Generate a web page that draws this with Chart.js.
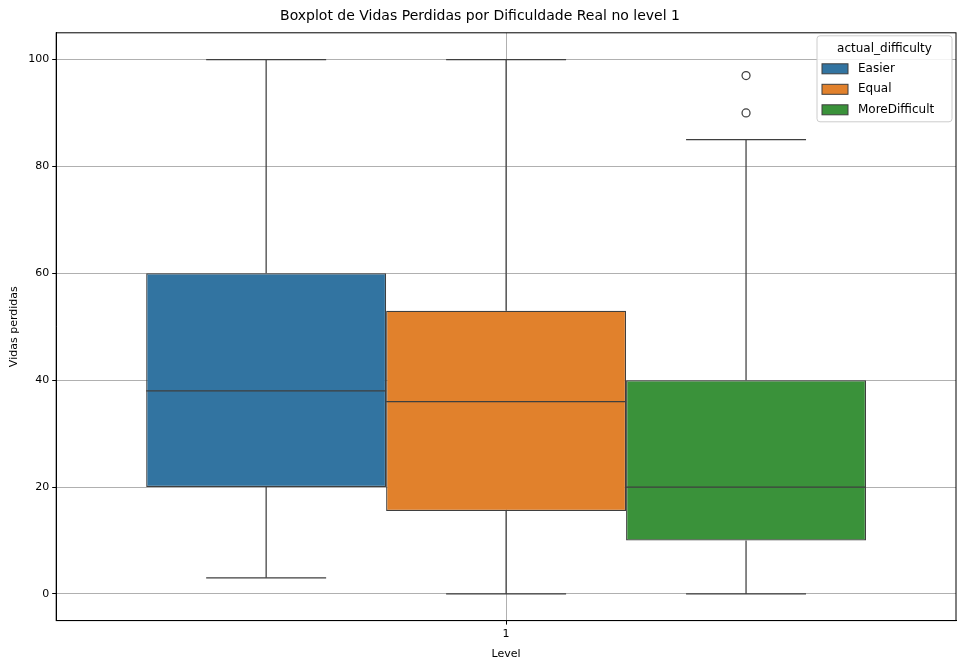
<!DOCTYPE html>
<html><head><meta charset="utf-8">
<script src="https://cdn.jsdelivr.net/npm/chart.js@4/dist/chart.umd.min.js"></script>
<style>html,body{margin:0;padding:0;background:#fff}#w{width:965px;height:671px}</style>
</head><body><div id="w"><canvas id="c"></canvas></div>
<script>
const categories = ["1"];
const groups = ["Easier","Equal","MoreDifficult"];
const colors = ["#3274a1","#e1812c","#3a923a"];
const whiskerLow = [3, 0, 0];
const q1 = [20, 15.5, 10];
const median = [38, 36, 20];
const q3 = [60, 53, 40];
const whiskerHigh = [100, 100, 85];
const outliers = [[], [], [90, 97]];
const yTicks = [0,20,40,60,80,100];
const LINE = "#3f3f3f";

const boxPlugin = {
  id: 'box',
  afterDatasetsDraw(chart) {
    const ctx = chart.ctx, y = chart.scales.y;
    ctx.save();
    ctx.strokeStyle = LINE; ctx.lineWidth = 1.25;
    groups.forEach((g, i) => {
      const el = chart.getDatasetMeta(i).data[0];
      const x = el.x, w = el.width, l = x - w/2, r = x + w/2;
      const line = (x1,y1,x2,y2)=>{ctx.beginPath();ctx.moveTo(x1,y1);ctx.lineTo(x2,y2);ctx.stroke();};
      line(l, y.getPixelForValue(median[i]), r, y.getPixelForValue(median[i]));
      line(x, y.getPixelForValue(q3[i]), x, y.getPixelForValue(whiskerHigh[i]));
      line(x, y.getPixelForValue(q1[i]), x, y.getPixelForValue(whiskerLow[i]));
      line(x-w/4, y.getPixelForValue(whiskerHigh[i]), x+w/4, y.getPixelForValue(whiskerHigh[i]));
      line(x-w/4, y.getPixelForValue(whiskerLow[i]), x+w/4, y.getPixelForValue(whiskerLow[i]));
      outliers[i].forEach(v => { ctx.beginPath(); ctx.arc(x, y.getPixelForValue(v), 4, 0, Math.PI*2); ctx.stroke(); });
    });
    const a = chart.chartArea;
    ctx.strokeStyle = "#000"; ctx.lineWidth = 1;
    ctx.strokeRect(a.left, a.top, a.right - a.left, a.bottom - a.top);
    // legend
    const lx = a.right - 139, ly = a.top + 3, lw = 135, lh = 86;
    ctx.fillStyle = "rgba(255,255,255,0.85)"; ctx.strokeStyle = "#cccccc";
    ctx.beginPath(); ctx.roundRect(lx, ly, lw, lh, 3); ctx.fill(); ctx.stroke();
    ctx.fillStyle = "#000"; ctx.font = "12px 'DejaVu Sans'"; ctx.textBaseline = "middle"; ctx.textAlign = "center";
    ctx.fillText("actual_difficulty", lx + lw/2, ly + 13);
    ctx.textAlign = "left";
    groups.forEach((g, i) => {
      const yy = ly + 33 + i*20.5;
      ctx.fillStyle = colors[i]; ctx.fillRect(lx + 5, yy - 5, 26, 10);
      ctx.strokeStyle = LINE; ctx.lineWidth = 1; ctx.strokeRect(lx + 5, yy - 5, 26, 10);
      ctx.fillStyle = "#000"; ctx.fillText(g, lx + 41, yy);
    });
    ctx.restore();
  }
};

new Chart(document.getElementById('c'), {
  type: 'bar',
  data: {
    labels: categories,
    datasets: groups.map((g, i) => ({
      label: g, data: [[q1[i], q3[i]]], backgroundColor: colors[i],
      borderColor: LINE, borderWidth: 1.25, borderSkipped: false,
      categoryPercentage: 0.8, barPercentage: 1.0
    }))
  },
  options: {
    responsive: true, maintainAspectRatio: false, animation: false,
    layout: { padding: { left: 4, right: 9, top: 0, bottom: 6 } },
    plugins: {
      legend: { display: false }, tooltip: { enabled: false },
      title: { display: true, text: "Boxplot de Vidas Perdidas por Dificuldade Real no level 1",
        color: "#000", font: { family: "'DejaVu Sans'", size: 14, weight: 'normal' }, padding: { top: 8, bottom: 8 } }
    },
    scales: {
      x: { grid: { offset: false, color: "#b0b0b0", drawTicks: true, tickColor: "#000", tickLength: 4 },
        border: { color: "#000" },
        ticks: { color: "#000", font: { family: "'DejaVu Sans'", size: 11 } },
        title: { display: true, text: "Level", color: "#000", font: { family: "'DejaVu Sans'", size: 11 } } },
      y: { min: -5, max: 105, afterBuildTicks: s => { s.ticks = yTicks.map(v => ({ value: v })); },
        grid: { color: "#b0b0b0", tickColor: "#000", tickLength: 4 }, border: { color: "#000" },
        ticks: { color: "#000", font: { family: "'DejaVu Sans'", size: 11 } },
        title: { display: true, text: "Vidas perdidas", color: "#000", font: { family: "'DejaVu Sans'", size: 11 } } }
    }
  },
  plugins: [boxPlugin]
});
</script></body></html>
